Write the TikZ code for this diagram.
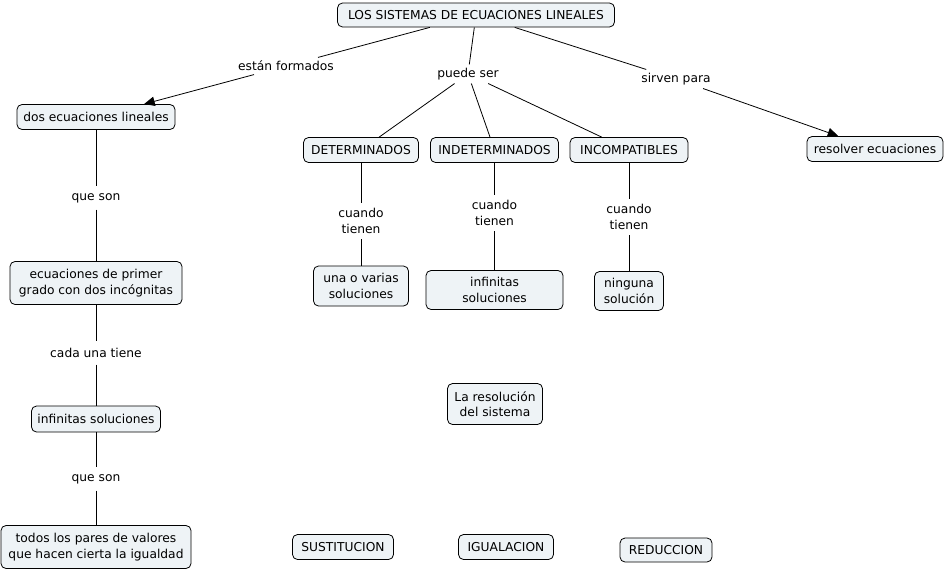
\documentclass[tikz,border=0pt]{standalone}
\usepackage{fontspec}
\setmainfont{DejaVu Sans}
\usetikzlibrary{arrows.meta}
\definecolor{boxfill}{RGB}{238,243,246}
\tikzset{
  cbox/.style={draw=black, line width=0.6pt, rounded corners=3.75pt, fill=boxfill,
    align=center, inner sep=1pt, font=\fontsize{9.2}{11.6}\selectfont},
  lbl/.style={align=center, inner sep=2.5pt, font=\fontsize{9.2}{11.6}\selectfont},
  conn/.style={line width=0.6pt, black},
  arr/.style={conn, -{Triangle[length=8pt,width=7pt]}}
}
\begin{document}
\begin{tikzpicture}[x=0.75pt,y=-0.75pt]
\useasboundingbox (0,0) rectangle (945,571);
% boxes
\node[cbox, minimum width=207.75pt, minimum height=18pt] (title) at (476,15) {LOS SISTEMAS DE ECUACIONES LINEALES};
\node[cbox, minimum width=118.5pt, minimum height=18.75pt] (dos) at (96,117) {dos ecuaciones lineales};
\node[cbox, minimum width=86.25pt, minimum height=18.75pt] (det) at (361,150) {DETERMINADOS};
\node[cbox, minimum width=96pt, minimum height=18.75pt] (indet) at (494.5,150) {INDETERMINADOS};
\node[cbox, minimum width=88.5pt, minimum height=18.75pt] (incomp) at (629,150) {INCOMPATIBLES};
\node[cbox, minimum width=102pt, minimum height=18.75pt] (resolver) at (875,149) {resolver ecuaciones};
\node[cbox, minimum width=129pt, minimum height=32.25pt] (primer) at (96,283) {ecuaciones de primer\\grado con dos incógnitas};
\node[cbox, minimum width=71.25pt, minimum height=30pt] (una) at (361,286) {una o varias\\soluciones};
\node[cbox, minimum width=102.75pt, minimum height=29.25pt] (infmid) at (494.5,290) {infinitas\\soluciones};
\node[cbox, minimum width=51.75pt, minimum height=29.25pt] (ninguna) at (629,291) {ninguna\\solución};
\node[cbox, minimum width=71.25pt, minimum height=30.75pt] (laresol) at (495,404) {La resolución\\del sistema};
\node[cbox, minimum width=96.75pt, minimum height=19.5pt] (infleft) at (96,419) {infinitas soluciones};
\node[cbox, minimum width=142.5pt, minimum height=32.25pt] (todos) at (96,547) {todos los pares de valores\\que hacen cierta la igualdad};
\node[cbox, minimum width=75.75pt, minimum height=18.75pt] (sust) at (343,547) {SUSTITUCION};
\node[cbox, minimum width=71.25pt, minimum height=18.75pt] (igual) at (506,547) {IGUALACION};
\node[cbox, minimum width=69pt, minimum height=18pt] (reduc) at (666,550) {REDUCCION};
% labels
\node[lbl] (lform) at (286,66) {están formados};
\node[lbl] (lpuede) at (468,74) {puede ser};
\node[lbl] (lsirven) at (676,79) {sirven para};
\node[lbl, inner ysep=5pt] (lque1) at (96,198) {que son};
\node[lbl, inner ysep=5pt] (lcada) at (96,353) {cada una tiene};
\node[lbl, inner ysep=5pt] (lque2) at (96,479) {que son};
\node[lbl, inner ysep=4pt] (lc1) at (361,221) {cuando\\tienen};
\node[lbl, inner ysep=4pt] (lc2) at (494.5,213) {cuando\\tienen};
\node[lbl, inner ysep=4pt] (lc3) at (629,217) {cuando\\tienen};
% connectors
\draw[conn] (title) -- (lform);
\draw[arr] (lform) -- (dos);
\draw[conn] (title) -- (lpuede);
\draw[conn] (lpuede) -- (det);
\draw[conn] (lpuede) -- (indet);
\draw[conn] (lpuede) -- (incomp);
\draw[conn] (title) -- (lsirven);
\draw[arr] (lsirven) -- (resolver);
\draw[conn] (dos) -- (lque1);
\draw[conn] (lque1) -- (primer);
\draw[conn] (primer) -- (lcada);
\draw[conn] (lcada) -- (infleft);
\draw[conn] (infleft) -- (lque2);
\draw[conn] (lque2) -- (todos);
\draw[conn] (det) -- (lc1);
\draw[conn] (lc1) -- (una);
\draw[conn] (indet) -- (lc2);
\draw[conn] (lc2) -- (infmid);
\draw[conn] (incomp) -- (lc3);
\draw[conn] (lc3) -- (ninguna);
\end{tikzpicture}
\end{document}
